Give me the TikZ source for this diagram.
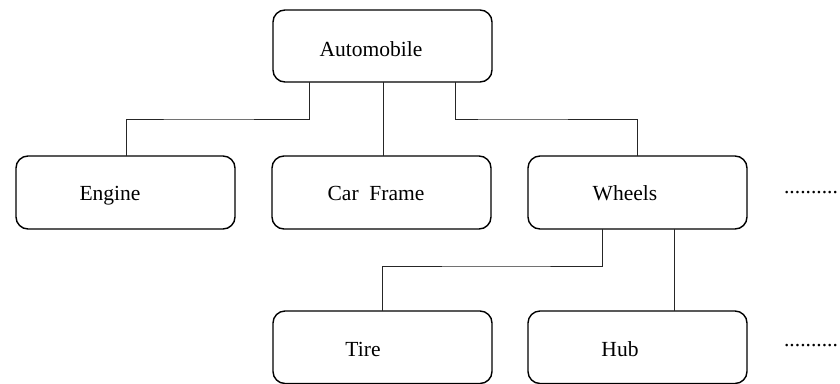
\documentclass[tikz,border=0pt]{standalone}
\usepackage{fontspec}
\setmainfont{Liberation Serif}
\begin{document}
\begin{tikzpicture}[x=1bp,y=-1bp,
  part/.style={draw, line width=1.4bp, rounded corners=12bp},
  label/.style={anchor=base, inner sep=0pt, font=\fontsize{21.6}{26}\selectfont},
  link/.style={draw, line width=0.9bp, black!85}]
\useasboundingbox (0,0) rectangle (840,383);

% boxes
\draw[part] (273,10) rectangle (492,82);
\draw[part] (16,156) rectangle (235,229);
\draw[part] (272,156) rectangle (491,229);
\draw[part] (528,156) rectangle (747,229);
\draw[part] (273,311) rectangle (492,383.5);
\draw[part] (528,311) rectangle (747,383.5);

% anchor points on the box edges
\coordinate (autoL) at (309,82);
\coordinate (autoM) at (383,82);
\coordinate (autoR) at (455,82);
\coordinate (engT) at (126,156);
\coordinate (frmT) at (383,156);
\coordinate (whlT) at (637,156);
\coordinate (whlL) at (602,229);
\coordinate (whlR) at (674,229);
\coordinate (tirT) at (382,311);
\coordinate (hubT) at (674,311);

% labels
\node[label] (auto) at (371,56) {Automobile};
\node[label] (eng) at (110,200.5) {Engine};
\node[label] (frm) at (376,200.5) {Car\ \ Frame};
\node[label] (whl) at (625,200.5) {Wheels};
\node[label] (tir) at (363,356.5) {Tire};
\node[label] (hub) at (620,356.5) {Hub};
\node[label] (more1) at (811,193) {..........};
\node[label] (more2) at (811,346) {..........};

% connectors
\draw[link] (autoL) |- (200,119) -| (engT);
\draw[link] (autoM) -- (frmT);
\draw[link] (autoR) |- (500,119) -| (whlT);
\draw[link] (whlL) |- (500,266) -| (tirT);
\draw[link] (whlR) -- (hubT);
\end{tikzpicture}
\end{document}
